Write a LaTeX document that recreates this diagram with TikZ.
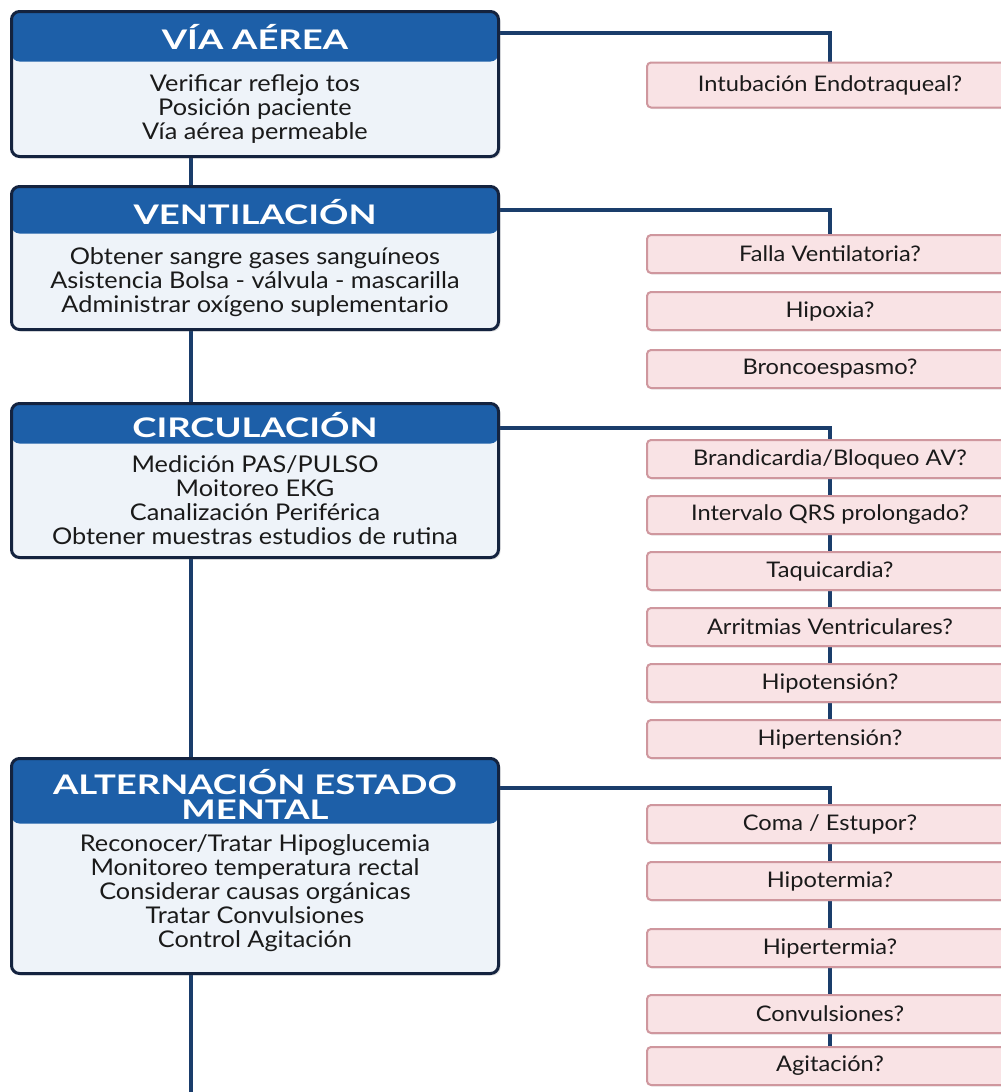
\documentclass[tikz,border=0pt]{standalone}
\usepackage{fontspec}
\setmainfont{Lato}[FakeStretch=1.1]
\newfontfamily\headfont{Lato}[FakeStretch=1.35]
\usetikzlibrary{calc,positioning,shadows,backgrounds}
\definecolor{colorhead}{HTML}{1D5FA8}
\definecolor{colorframe}{HTML}{14233F}
\definecolor{colorbody}{HTML}{EEF3F9}
\definecolor{colorlink}{HTML}{1A3D6B}
\definecolor{colorpink}{HTML}{F9E3E5}
\definecolor{colorpinkline}{HTML}{CF979E}
\definecolor{colortext}{HTML}{1A1A1A}
\tikzset{
  mainbox/.style 2 args={draw=colorframe, line width=3pt, rounded corners=8pt,
    fill=colorbody, anchor=north west, minimum width=487pt, minimum height=#1,
    drop shadow={shadow xshift=2pt, shadow yshift=-2pt, opacity=0.2},
    path picture={\fill[colorhead] (path picture bounding box.north west)
      rectangle ([yshift=-#2]path picture bounding box.north east);}},
  headtext/.style={text=white, align=center, inner sep=0pt,
    font=\headfont\bfseries\fontsize{27}{25}\selectfont},
  bodytext/.style={text=colortext, align=center, inner sep=0pt,
    font=\fontsize{23}{24}\selectfont},
  ask/.style={draw=colorpinkline, line width=2pt, fill=colorpink,
    rounded corners=4pt, minimum width=366pt, minimum height=38pt,
    text=colortext, font=\fontsize{21.5}{24}\selectfont,
    drop shadow={shadow xshift=1pt, shadow yshift=-1.5pt, opacity=0.15}},
  link/.style={draw=colorlink, line width=4pt}
}

\begin{document}
\begin{tikzpicture}[x=1pt, y=-1pt]
\useasboundingbox (0,0) rectangle (1001,1092);
\clip (0,0) rectangle (1001,1092);

% main steps
\node[mainbox={145pt}{50pt}] (via) at (10,10) {};
\node[headtext] (viah) at ($(via.north)+(0,27)$) {VÍA AÉREA};
\node[bodytext] (viab) at ($(via.north)+(0,99)$)
{Verificar reflejo tos\\Posición paciente\\Vía aérea permeable};

\node[mainbox={143pt}{47pt}] (vent) at (10,185) {};
\node[headtext] (venth) at ($(vent.north)+(0,27)$) {VENTILACIÓN};
\node[bodytext] (ventb) at ($(vent.north)+(0,97)$)
{Obtener sangre gases sanguíneos\\Asistencia Bolsa - válvula - mascarilla\\Administrar oxígeno suplementario};

\node[mainbox={154pt}{40pt}] (circ) at (10,402) {};
\node[headtext] (circh) at ($(circ.north)+(0,23)$) {CIRCULACIÓN};
\node[bodytext] (circb) at ($(circ.north)+(0,98)$)
{Medición PAS/PULSO\\Moitoreo EKG\\Canalización Periférica\\Obtener muestras estudios de rutina};

\node[mainbox={215pt}{65pt}] (ment) at (10,757) {};
\node[headtext] (menth) at ($(ment.north)+(0,37)$) {ALTERNACIÓN ESTADO\\MENTAL};
\node[bodytext] (mentb) at ($(ment.north)+(0,136)$)
{Reconocer/Tratar Hipoglucemia\\Monitoreo temperatura rectal\\Considerar causas orgánicas\\Tratar Convulsiones\\Control Agitación};

% questions
\node[ask, minimum height=45pt] (intub) at (830,85) {Intubación Endotraqueal?};
\foreach \y/\name/\txt in {254/falla/{Falla Ventilatoria?}, 311/hipox/{Hipoxia?},
  369/bronco/{Broncoespasmo?}, 459/brand/{Brandicardia/Bloqueo AV?},
  515/qrs/{Intervalo QRS prolongado?}, 571/taqui/{Taquicardia?},
  627/arrit/{Arritmias Ventriculares?}, 683/hipot/{Hipotensión?},
  739/hipert/{Hipertensión?}, 824/coma/{Coma / Estupor?},
  881/hipoterm/{Hipotermia?}, 948/hiperterm/{Hipertermia?},
  1014/conv/{Convulsiones?}, 1066/agit/{Agitación?}}
  \node[ask] (\name) at (830,\y) {\txt};

\coordinate (spine) at (191,0);
\coordinate (floor) at (191,1092);
\coordinate (viaout) at ($(via.north east)+(0,23)$);
\coordinate (ventout) at ($(vent.north east)+(0,25)$);
\coordinate (circout) at ($(circ.north east)+(0,26)$);
\coordinate (mentout) at ($(ment.north east)+(0,31)$);

\begin{scope}[on background layer]
\fill[white] (0,0) rectangle (1001,1092);
\draw[link] (spine |- via.south) -- (spine |- vent.north);
\draw[link] (spine |- vent.south) -- (spine |- circ.north);
\draw[link] (spine |- circ.south) -- (spine |- ment.north);
\draw[link] (spine |- ment.south) -- (floor);
\draw[link] (viaout) -| (intub.north);
\draw[link] (ventout) -| (falla.north);
\draw[link] (circout) -| (brand.north);
\draw[link] (mentout) -| (coma.north);
\foreach \a/\b in {brand/qrs, qrs/taqui, taqui/arrit, arrit/hipot, hipot/hipert,
  coma/hipoterm, hipoterm/hiperterm, hiperterm/conv, conv/agit}
  \draw[link] (\a) -- (\b);
\end{scope}
\end{tikzpicture}
\end{document}
